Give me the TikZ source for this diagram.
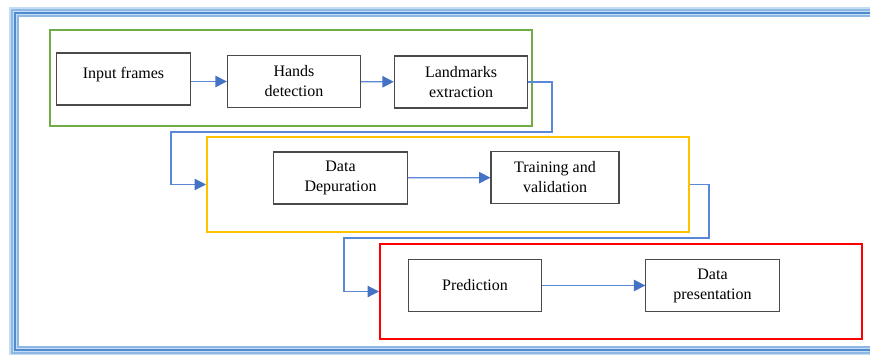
\documentclass[tikz,border=0pt]{standalone}
\usepackage{fontspec}
\setmainfont{Liberation Serif}
\usetikzlibrary{arrows.meta}

\definecolor{framelight}{HTML}{C5DCF2}
\definecolor{framemid}{HTML}{8DB8E6}
\definecolor{framedark}{HTML}{4F8BD0}
\definecolor{boxgray}{HTML}{4A4A4A}
\definecolor{stagegreen}{HTML}{70AD47}
\definecolor{stagegold}{HTML}{FFC000}
\definecolor{stagered}{HTML}{FF0000}
\definecolor{linkblue}{HTML}{5A88D6}
\definecolor{headblue}{HTML}{4472C4}

\tikzset{
  stepbox/.style={draw=boxgray,line width=0.8pt,fill=white,minimum width=100pt,minimum height=39pt,
    align=center,inner sep=2pt,font=\fontsize{12}{15}\selectfont},
  stagebox/.style={line width=1.5pt,minimum width=361.5pt,minimum height=71.5pt,inner sep=0pt},
  link/.style={draw=linkblue,line width=0.9pt,-{Triangle[length=8.5pt,width=8.5pt,color=headblue]}}
}

\begin{document}
\begin{tikzpicture}[x=0.75pt,y=-0.75pt]
\useasboundingbox (0,0) rectangle (870,354);
% the striped outer frame
\draw[framelight,line width=7pt] (870,11.5) -- (13.5,11.5) -- (13.5,351.5) -- (870,351.5);
\foreach \d/\c in {3/framemid,6/framedark,9/framemid}
  \draw[\c,line width=1.1pt] (870,7+\d) -- (9+\d,7+\d) -- (9+\d,356-\d) -- (870,356-\d);
% the three stages
\node[stagebox,draw=stagegreen] (stage1) at (291,78) {};
\node[stagebox,draw=stagegold] (stage2) at (448,184.5) {};
\node[stagebox,draw=stagered] (stage3) at (621,291.5) {};
% the steps
\node[stepbox,text depth=9pt] (inframes) at (123.5,79) {Input frames};
\node[stepbox] (hands) at (294,81.5) {Hands\\detection};
\node[stepbox] (landmarks) at (461,82) {Landmarks\\extraction};
\node[stepbox] (depuration) at (340.5,178) {Data\\Depuration};
\node[stepbox,minimum width=96pt] (training) at (555,177.5) {Training and\\validation};
\node[stepbox] (prediction) at (475,285.5) {Prediction};
\node[stepbox] (presentation) at (712.5,285.5) {Data\\presentation};
% the bends between the stages
\coordinate (turnA) at (552,132);
\coordinate (turnB) at (171,132);
\coordinate (turnC) at (709,238);
\coordinate (turnD) at (344,238);
% the links
\draw[link] (inframes.east |- hands.west) -- (hands.west);
\draw[link] (hands) -- (landmarks);
\draw[link] (landmarks.east) -| (turnA) -- (turnB) |- (stage2.west);
\draw[link] (depuration) -- (training);
\draw[link] (stage2.east) -| (turnC) -- (turnD) |- (stage3.west);
\draw[link] (prediction) -- (presentation);
\end{tikzpicture}
\end{document}
